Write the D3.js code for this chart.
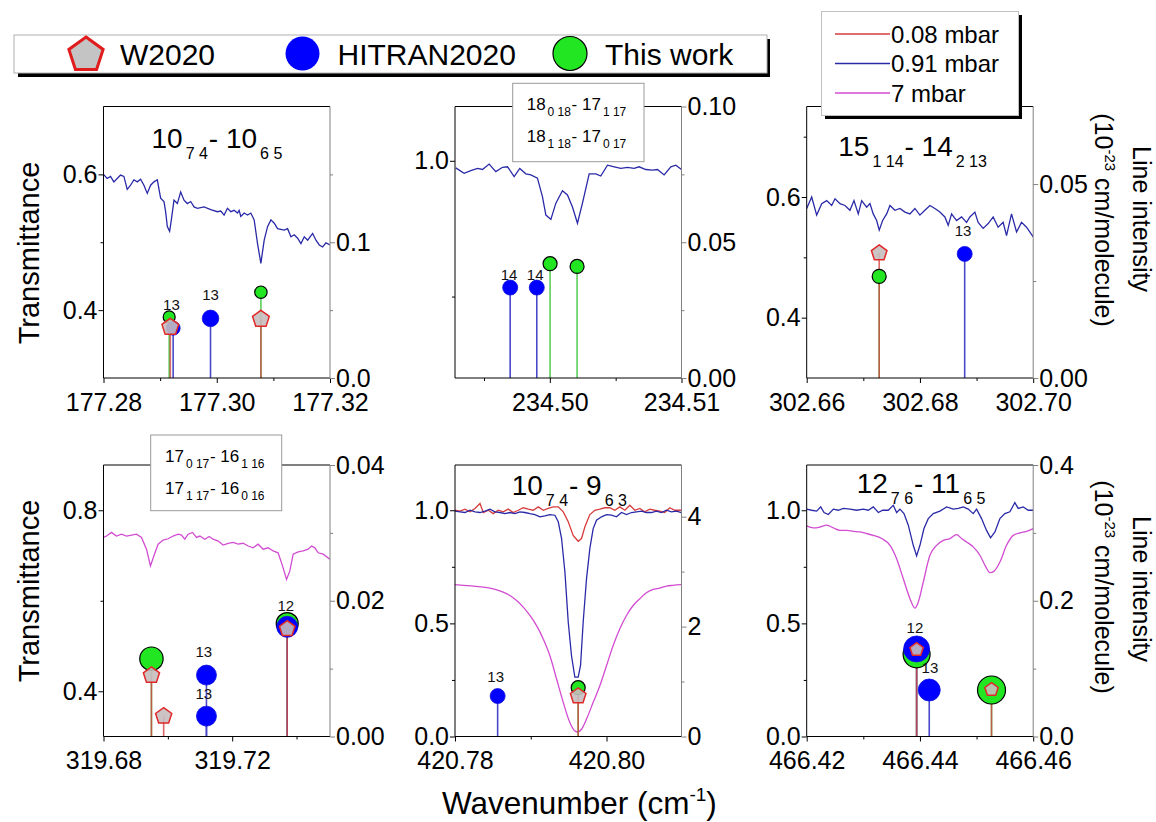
<!DOCTYPE html>
<html><head><meta charset="utf-8">
<script src="https://cdn.jsdelivr.net/npm/d3@7"></script>
<style>body{margin:0;background:#fff}svg{display:block}text{font-family:"Liberation Sans",Arial,sans-serif}</style>
</head><body>
<svg id="chart" width="1156" height="822"></svg>
<script>
// ---------------- DATA ----------------
const legendSeries = ["W2020", "HITRAN2020", "This work"];
const pressureSeries = ["0.08 mbar", "0.91 mbar", "7 mbar"];
const xAxisTitle = "Wavenumber (cm";
const leftAxisTitle = "Transmittance";
const rightAxisTitle1 = "Line intensity";

// Panel 1 : 10(7 4) - 10(6 5)
const p1Wn = [177.28000,177.28065,177.28124,177.28183,177.28242,177.28301,177.28360,177.28419,177.28478,177.28537,177.28596,177.28655,177.28714,177.28773,177.28832,177.28891,177.28950,177.29009,177.29068,177.29097,177.29127,177.29168,177.29198,177.29245,177.29304,177.29363,177.29422,177.29481,177.29540,177.29599,177.29658,177.29776,177.29894,177.30012,177.30071,177.30130,177.30189,177.30248,177.30307,177.30366,177.30395,177.30425,177.30484,177.30543,177.30602,177.30661,177.30720,177.30779,177.30838,177.30897,177.30956,177.31015,177.31074,177.31192,177.31251,177.31310,177.31369,177.31428,177.31487,177.31546,177.31605,177.31693,177.31752,177.31811,177.31870,177.31929,177.32000];
const p1T091 = [0.600,0.594,0.597,0.589,0.594,0.599,0.597,0.578,0.584,0.592,0.589,0.593,0.584,0.572,0.584,0.589,0.592,0.565,0.560,0.545,0.523,0.516,0.533,0.562,0.557,0.574,0.562,0.557,0.560,0.552,0.550,0.552,0.548,0.545,0.546,0.540,0.550,0.545,0.547,0.543,0.547,0.538,0.543,0.540,0.543,0.533,0.498,0.469,0.503,0.523,0.533,0.528,0.520,0.518,0.520,0.508,0.511,0.506,0.498,0.508,0.503,0.513,0.503,0.496,0.493,0.499,0.496];
const p1W2020Wn = [177.2918, 177.3078];
const p1W2020S = [0.0375, 0.0434];
const p1HitranWn = [177.2923, 177.2989];
const p1HitranS = [0.0367, 0.0439];
const p1ThisWn = [177.2916, 177.3078];
const p1ThisS = [0.0450, 0.0632];
const p1LabelText = ["13", "13"];
const p1LabelWn = [177.2920, 177.2989];
const p1LabelS = [0.0504, 0.0573];

// Panel 2 : 18(0 18)-17(1 17) / 18(1 18)-17(0 17)
const p2Wn = [234.49286,234.49349,234.49400,234.49451,234.49489,234.49539,234.49590,234.49641,234.49679,234.49729,234.49772,234.49818,234.49856,234.49906,234.49944,234.49970,234.50008,234.50046,234.50096,234.50134,234.50172,234.50210,234.50248,234.50299,234.50349,234.50387,234.50438,234.50489,234.50539,234.50590,234.50640,234.50678,234.50729,234.50780,234.50818,234.50868,234.50919,234.50957,234.51000];
const p2T091 = [0.987,0.977,0.982,0.986,0.984,0.994,0.980,0.988,0.989,0.971,0.986,0.976,0.974,0.968,0.934,0.900,0.892,0.922,0.945,0.937,0.915,0.885,0.922,0.976,0.976,0.972,0.992,0.989,0.986,0.988,0.986,0.989,0.984,0.983,0.984,0.974,0.989,0.992,0.984];
const p2W2020Wn = [];
const p2W2020S = [];
const p2HitranWn = [234.49699, 234.49901];
const p2HitranS = [0.0333, 0.0333];
const p2ThisWn = [234.50002, 234.50207];
const p2ThisS = [0.0421, 0.0411];
const p2LabelText = ["14", "14"];
const p2LabelWn = [234.49691, 234.49889];
const p2LabelS = [0.0360, 0.0360];

// Panel 3 : 15(1 14) - 14(2 13)
const p3Wn = [302.66000,302.66088,302.66176,302.66265,302.66353,302.66441,302.66500,302.66588,302.66676,302.66764,302.66835,302.66911,302.66971,302.67059,302.67117,302.67175,302.67235,302.67281,302.67341,302.67412,302.67470,302.67558,302.67646,302.67735,302.67823,302.67911,302.67999,302.68087,302.68176,302.68264,302.68352,302.68440,302.68499,302.68559,302.68647,302.68735,302.68823,302.68882,302.68970,302.69028,302.69116,302.69205,302.69293,302.69381,302.69469,302.69529,302.69617,302.69706,302.69794,302.69882,302.70000];
const p3T091 = [0.581,0.600,0.570,0.589,0.594,0.586,0.597,0.589,0.586,0.578,0.594,0.572,0.594,0.583,0.589,0.572,0.561,0.545,0.561,0.572,0.586,0.578,0.581,0.575,0.572,0.581,0.570,0.578,0.586,0.581,0.575,0.567,0.553,0.572,0.561,0.567,0.558,0.567,0.575,0.558,0.548,0.556,0.567,0.550,0.558,0.536,0.572,0.542,0.558,0.550,0.534];
const p3W2020Wn = [302.6728];
const p3W2020S = [0.0322];
const p3HitranWn = [302.6879];
const p3HitranS = [0.0320];
const p3ThisWn = [302.6728];
const p3ThisS = [0.0262];
const p3LabelText = ["13"];
const p3LabelWn = [302.6876];
const p3LabelS = [0.0367];

// Panel 4 : 17(0 17)-16(1 16) / 17(1 17)-16(0 16)
const p4Wn = [319.68000,319.68093,319.68248,319.68403,319.68559,319.68714,319.68870,319.69025,319.69181,319.69336,319.69460,319.69564,319.69698,319.69853,319.70008,319.70164,319.70319,319.70425,319.70527,319.70630,319.70767,319.70891,319.70994,319.71149,319.71283,319.71407,319.71562,319.71718,319.71873,319.72029,319.72184,319.72339,319.72495,319.72650,319.72806,319.72961,319.73117,319.73272,319.73427,319.73564,319.73689,319.73791,319.73895,319.74050,319.74205,319.74361,319.74466,319.74569,319.74672,319.74828,319.75035];
const p4T7 = [0.740,0.743,0.751,0.743,0.747,0.743,0.745,0.747,0.740,0.714,0.677,0.699,0.725,0.734,0.737,0.743,0.747,0.745,0.736,0.747,0.751,0.740,0.743,0.736,0.742,0.736,0.732,0.723,0.727,0.729,0.725,0.727,0.721,0.717,0.725,0.714,0.717,0.710,0.706,0.677,0.647,0.666,0.703,0.708,0.710,0.714,0.721,0.717,0.706,0.703,0.692];
const p4W2020Wn = [319.6949, 319.6987, 319.7371];
const p4W2020S = [0.0090, 0.0030, 0.01586];
const p4HitranWn = [319.7120, 319.7120, 319.7371];
const p4HitranS = [0.00905, 0.0030, 0.01616];
const p4ThisWn = [319.6949, 319.7371];
const p4ThisS = [0.01146, 0.01664];
const p4LabelText = ["12", "13", "13"];
const p4LabelWn = [319.73667, 319.71118, 319.71118];
const p4LabelS = [0.01845, 0.01175, 0.00558];

// Panel 5 : 10(7 4) - 9(6 3)
const p5WnA = [420.78000,420.78066,420.78132,420.78198,420.78264,420.78330,420.78374,420.78440,420.78505,420.78571,420.78637,420.78703,420.78769,420.78835,420.78901,420.78967,420.79033,420.79099,420.79165,420.79231,420.79297,420.79363,420.79429,420.79495,420.79560,420.79626,420.79670,420.79714,420.79780,420.79846,420.79912,420.79978,420.80044,420.80110,420.80176,420.80242,420.80308,420.80374,420.80440,420.80505,420.80571,420.80637,420.80703,420.80769,420.80835,420.80901,420.80989];
const p5T008 = [1.000,0.996,1.005,0.993,1.008,1.030,0.990,1.000,0.985,1.000,0.993,1.005,0.990,1.000,1.011,1.005,1.000,1.015,1.000,1.008,1.015,1.015,0.993,0.949,0.889,0.863,0.875,0.926,0.981,1.000,1.005,1.011,1.011,1.000,1.015,1.000,1.022,1.000,1.008,0.993,1.005,1.000,0.996,0.990,1.011,1.000,1.000];
const p5WnB = [420.78000,420.78066,420.78132,420.78198,420.78264,420.78330,420.78396,420.78462,420.78527,420.78593,420.78659,420.78725,420.78791,420.78857,420.78923,420.78989,420.79055,420.79121,420.79187,420.79253,420.79319,420.79363,420.79407,420.79451,420.79495,420.79538,420.79582,420.79626,420.79657,420.79692,420.79736,420.79780,420.79824,420.79868,420.79934,420.80000,420.80066,420.80132,420.80198,420.80264,420.80330,420.80396,420.80462,420.80527,420.80593,420.80659,420.80725,420.80791,420.80857,420.80923,420.80989];
const p5T091 = [0.996,0.993,0.990,1.000,0.993,0.990,0.996,1.005,0.993,0.990,0.985,0.990,0.985,0.993,0.990,0.985,0.981,0.971,0.975,0.981,0.978,0.949,0.875,0.727,0.505,0.357,0.262,0.262,0.313,0.505,0.697,0.830,0.919,0.956,0.971,0.981,0.978,0.971,0.990,0.981,0.990,0.993,0.996,0.990,0.990,0.996,0.990,1.000,0.993,0.996,0.990];
const p5WnC = [420.78000,420.78110,420.78242,420.78374,420.78505,420.78637,420.78725,420.78813,420.78901,420.78989,420.79077,420.79165,420.79253,420.79341,420.79429,420.79516,420.79582,420.79626,420.79670,420.79736,420.79824,420.79912,420.80000,420.80088,420.80176,420.80264,420.80352,420.80440,420.80527,420.80615,420.80703,420.80791,420.80879,420.80989];
const p5T7 = [0.671,0.668,0.665,0.660,0.653,0.638,0.623,0.601,0.572,0.535,0.490,0.431,0.357,0.254,0.151,0.062,0.025,0.020,0.032,0.077,0.151,0.224,0.313,0.402,0.476,0.535,0.579,0.609,0.635,0.650,0.656,0.665,0.668,0.671];
const p5W2020Wn = [420.79626];
const p5W2020S = [0.736];
const p5HitranWn = [420.78563];
const p5HitranS = [0.736];
const p5ThisWn = [420.79626];
const p5ThisS = [0.888];
const p5LabelText = ["13"];
const p5LabelWn = [420.78537];
const p5LabelS = [0.99];

// Panel 6 : 12(7 6) - 11(6 5)
const p6WnB = [466.42000,466.42088,466.42176,466.42247,466.42306,466.42382,466.42471,466.42559,466.42647,466.42765,466.42882,466.43000,466.43088,466.43176,466.43265,466.43341,466.43441,466.43529,466.43588,466.43647,466.43718,466.43794,466.43882,466.43941,466.44000,466.44071,466.44147,466.44235,466.44353,466.44471,466.44588,466.44676,466.44765,466.44853,466.44941,466.45000,466.45088,466.45176,466.45247,466.45324,466.45412,466.45500,466.45588,466.45676,466.45735,466.45824,466.45912,466.46000];
const p6T091 = [1.005,1.000,0.996,1.015,0.990,0.981,1.005,1.000,1.008,1.005,1.000,1.005,1.000,1.015,0.990,1.000,1.000,1.022,0.990,1.005,0.985,0.934,0.845,0.798,0.845,0.919,0.963,0.985,0.996,1.015,1.005,1.008,1.015,1.005,0.985,1.005,0.963,0.911,0.878,0.904,0.963,0.985,0.993,1.034,1.008,1.015,1.000,1.000];
const p6WnC = [466.42000,466.42118,466.42235,466.42353,466.42471,466.42588,466.42706,466.42824,466.42941,466.43059,466.43176,466.43324,466.43471,466.43588,466.43706,466.43824,466.43912,466.43971,466.44059,466.44176,466.44294,466.44412,466.44529,466.44647,466.44735,466.44824,466.44941,466.45059,466.45165,466.45235,466.45306,466.45412,466.45529,466.45647,466.45765,466.45882,466.46000];
const p6T7 = [0.931,0.922,0.926,0.934,0.922,0.911,0.911,0.907,0.904,0.897,0.889,0.875,0.845,0.786,0.697,0.609,0.567,0.594,0.683,0.801,0.845,0.867,0.875,0.892,0.875,0.860,0.838,0.801,0.749,0.724,0.730,0.771,0.845,0.889,0.900,0.907,0.919];
const p6W2020Wn = [466.43941, 466.45264];
const p6W2020S = [0.128, 0.069];
const p6HitranWn = [466.43941, 466.44164];
const p6HitranS = [0.129, 0.0685];
const p6ThisWn = [466.43941, 466.45264];
const p6ThisS = [0.121, 0.0685];
const p6LabelText = ["12", "13"];
const p6LabelWn = [466.43911, 466.44176];
const p6LabelS = [0.1528, 0.094];

// Axis domains and ticks
const p1XTicks = [177.28, 177.30, 177.32], p1XMinor = [177.29, 177.31];
const p2XTicks = [234.50, 234.51], p2XMinor = [234.495, 234.505];
const p3XTicks = [302.66, 302.68, 302.70], p3XMinor = [302.67, 302.69];
const p4XTicks = [319.68, 319.72], p4XMinor = [319.70, 319.74];
const p5XTicks = [420.78, 420.80], p5XMinor = [420.79];
const p6XTicks = [466.42, 466.44, 466.46], p6XMinor = [466.43, 466.45];
const p1LTicks = [0.4, 0.6], p1LMinor = [0.5];
const p2LTicks = [1.0], p2LMinor = [0.75];
const p3LTicks = [0.4, 0.6], p3LMinor = [0.5, 0.7];
const p4LTicks = [0.4, 0.8], p4LMinor = [0.6];
const p5LTicks = [0.0, 0.5, 1.0], p5LMinor = [0.25, 0.75];
const p6LTicks = [0.0, 0.5, 1.0], p6LMinor = [0.25, 0.75];
const p1RTicks = [0.0, 0.1], p1RMinor = [0.05, 0.15];
const p2RTicks = [0.00, 0.05, 0.10], p2RMinor = [0.025, 0.075];
const p3RTicks = [0.00, 0.05], p3RMinor = [0.025];
const p4RTicks = [0.00, 0.02, 0.04], p4RMinor = [0.01, 0.03];
const p5RTicks = [0, 2, 4], p5RMinor = [1, 3];
const p6RTicks = [0.0, 0.2, 0.4], p6RMinor = [0.1, 0.3];

// ---------------- STYLE / LAYOUT ----------------
const FONT = '"Liberation Sans", Arial, sans-serif';
const C = {
  red: "#d63c3c", blue: "#2a2aa8", mag: "#d24cd2",
  stemThis: "#5ccf5c", stemHit: "#4a4ac8", stemW: "#d24040",
  greenFill: "#22e622", blueFill: "#0000ff", pentFill: "#c6bebe", pentStroke: "#e02828"
};
const W = 226.5, H = 271.5;
const colX = [103.5, 455, 806.7], rowY = [106.5, 465];

const panels = [
  { col:0, row:0, xd:[177.28,177.32], yLd:[0.3,0.7], yRd:[0,0.2],
    xt:p1XTicks, xm:p1XMinor, lt:p1LTicks, lm:p1LMinor, rt:p1RTicks, rm:p1RMinor, lf:".1f", rf:".1f",
    spectra:[{wn:p1Wn, t:p1T091, c:C.blue}],
    w:[p1W2020Wn,p1W2020S], h:[p1HitranWn,p1HitranS], th:[p1ThisWn,p1ThisS],
    lab:[p1LabelText,p1LabelWn,p1LabelS],
    rThis:[6,6.2], rHit:[7,8.3], rW:[8.8,8.8],
    title:{dx:48, dy:41.8, parts:["10","7 4","- 10","6 5"]} },
  { col:1, row:0, xd:[234.4928,234.51], yLd:[0.6,1.1], yRd:[0,0.10],
    xt:p2XTicks, xm:p2XMinor, lt:p2LTicks, lm:p2LMinor, rt:p2RTicks, rm:p2RMinor, lf:".1f", rf:".2f",
    spectra:[{wn:p2Wn, t:p2T091, c:C.blue}],
    w:[p2W2020Wn,p2W2020S], h:[p2HitranWn,p2HitranS], th:[p2ThisWn,p2ThisS],
    lab:[p2LabelText,p2LabelWn,p2LabelS],
    rThis:[7,7], rHit:[7.5,7.5], rW:[],
    box:{dx:57.7, dy:-23.2, w:131.3, h:78.4, tx:71.7, lines:[{dy:3.5, parts:["18","0 18","- 17","1 17"]},{dy:35.2, parts:["18","1 18","- 17","0 17"]}]} },
  { col:2, row:0, xd:[302.66,302.70], yLd:[0.3,0.75], yRd:[0,0.07],
    xt:p3XTicks, xm:p3XMinor, lt:p3LTicks, lm:p3LMinor, rt:p3RTicks, rm:p3RMinor, lf:".1f", rf:".2f",
    spectra:[{wn:p3Wn, t:p3T091, c:C.blue}],
    w:[p3W2020Wn,p3W2020S], h:[p3HitranWn,p3HitranS], th:[p3ThisWn,p3ThisS],
    lab:[p3LabelText,p3LabelWn,p3LabelS],
    rThis:[7], rHit:[7.5], rW:[8.2],
    title:{dx:31.6, dy:49.3, parts:["15","1 14","- 14","2 13"]} },
  { col:0, row:1, xd:[319.68,319.7504], yLd:[0.3,0.9], yRd:[0,0.04],
    xt:p4XTicks, xm:p4XMinor, lt:p4LTicks, lm:p4LMinor, rt:p4RTicks, rm:p4RMinor, lf:".1f", rf:".2f",
    spectra:[{wn:p4Wn, t:p4T7, c:C.mag}],
    w:[p4W2020Wn,p4W2020S], h:[p4HitranWn,p4HitranS], th:[p4ThisWn,p4ThisS],
    lab:[p4LabelText,p4LabelWn,p4LabelS],
    rThis:[11.7,11], rHit:[10,10,10.5], rW:[8.5,8.5,8.2],
    box:{dx:47.2, dy:-30, w:131, h:75.7, tx:61.5, lines:[{dy:-3.3, parts:["17","0 17","- 16","1 16"]},{dy:29, parts:["17","1 17","- 16","0 16"]}]} },
  { col:1, row:1, xd:[420.78,420.8099], yLd:[0,1.2], yRd:[0,4.94],
    xt:p5XTicks, xm:p5XMinor, lt:p5LTicks, lm:p5LMinor, rt:p5RTicks, rm:p5RMinor, lf:".1f", rf:"d",
    spectra:[{wn:p5WnC, t:p5T7, c:C.mag, smooth:true},{wn:p5WnA, t:p5T008, c:C.red},{wn:p5WnB, t:p5T091, c:C.blue}],
    w:[p5W2020Wn,p5W2020S], h:[p5HitranWn,p5HitranS], th:[p5ThisWn,p5ThisS],
    lab:[p5LabelText,p5LabelWn,p5LabelS],
    rThis:[7], rHit:[7.5], rW:[8.2],
    title:{dx:56.7, dy:30, parts:["10","7 4","- 9","6 3"]} },
  { col:2, row:1, xd:[466.42,466.46], yLd:[0,1.2], yRd:[0,0.4],
    xt:p6XTicks, xm:p6XMinor, lt:p6LTicks, lm:p6LMinor, rt:p6RTicks, rm:p6RMinor, lf:".1f", rf:".1f",
    spectra:[{wn:p6WnC, t:p6T7, c:C.mag, smooth:true},{wn:p6WnB, t:p6T091, c:C.blue}],
    w:[p6W2020Wn,p6W2020S], h:[p6HitranWn,p6HitranS], th:[p6ThisWn,p6ThisS],
    lab:[p6LabelText,p6LabelWn,p6LabelS],
    rThis:[13.5,14], rHit:[13,11], rW:[7,7],
    title:{dx:50, dy:27.7, parts:["12","7 6","- 11","6 5"]} }
];

const svg = d3.select("#chart");
svg.append("rect").attr("width",1156).attr("height",822).attr("fill","#fff");

function pentagon(cx, cy, r) {
  const pts = d3.range(5).map(k => {
    const a = -Math.PI/2 + k*2*Math.PI/5;
    return [cx + r*Math.cos(a), cy + r*Math.sin(a)];
  });
  return "M" + pts.map(p => p.join(",")).join("L") + "Z";
}

function subText(g, x, y, parts, mainSize, subSize, shift, gap) {
  const t = g.append("text").attr("x", x).attr("y", y).attr("font-size", mainSize)
    .attr("fill", "#000").style("white-space", "pre");
  parts.forEach((p, i) => {
    const isSub = i % 2 === 1;
    const ts = t.append("tspan").text(p);
    if (isSub) ts.attr("font-size", subSize).attr("dy", shift).attr("dx", gap);
    else if (i > 0) ts.attr("dy", -shift).attr("dx", gap * 0.3);
  });
  return t;
}

function styleAxis(sel, color) {
  sel.select(".domain").remove();
  sel.selectAll("line").attr("stroke", color).attr("stroke-width", 1);
  sel.selectAll("text").attr("font-size", 25).attr("fill", "#000").attr("font-family", FONT);
}

panels.forEach((p, idx) => {
  const x0 = colX[p.col], yT = rowY[p.row], yB = yT + H, x1 = x0 + W;
  const x = d3.scaleLinear().domain(p.xd).range([x0, x1]);
  const yL = d3.scaleLinear().domain(p.yLd).range([yB, yT]);
  const yR = d3.scaleLinear().domain(p.yRd).range([yB, yT]);
  const g = svg.append("g");

  const clipId = "clip" + idx;
  g.append("clipPath").attr("id", clipId).append("rect")
    .attr("x", x0).attr("y", yT).attr("width", W).attr("height", H);

  // spectra
  p.spectra.forEach(s => {
    const line = d3.line().x(d => x(d[0])).y(d => yL(d[1]))
      .curve(s.smooth ? d3.curveMonotoneX : d3.curveLinear);
    g.append("path").attr("clip-path", `url(#${clipId})`)
      .attr("d", line(d3.zip(s.wn, s.t)))
      .attr("fill", "none").attr("stroke", s.c).attr("stroke-width", 1.3);
  });

  // stems
  const stems = [[p.th, C.stemThis, 1], [p.h, C.stemHit, 1], [p.w, C.stemW, 0.8]];
  stems.forEach(([arr, col, op]) => {
    g.selectAll(null).data(d3.zip(arr[0], arr[1])).enter().append("line")
      .attr("x1", d => x(d[0])).attr("x2", d => x(d[0]))
      .attr("y1", yR(0)).attr("y2", d => yR(d[1]))
      .attr("stroke", col).attr("stroke-width", 1.6).attr("stroke-opacity", op);
  });

  // markers
  g.selectAll(null).data(d3.zip(p.th[0], p.th[1])).enter().append("circle")
    .attr("cx", d => x(d[0])).attr("cy", d => yR(d[1])).attr("r", (d, i) => p.rThis[i])
    .attr("fill", C.greenFill).attr("stroke", "#000").attr("stroke-width", 1.2);
  g.selectAll(null).data(d3.zip(p.h[0], p.h[1])).enter().append("circle")
    .attr("cx", d => x(d[0])).attr("cy", d => yR(d[1])).attr("r", (d, i) => p.rHit[i])
    .attr("fill", C.blueFill).attr("stroke", "#1010e0").attr("stroke-width", 0.8);
  g.selectAll(null).data(d3.zip(p.w[0], p.w[1])).enter().append("path")
    .attr("d", (d, i) => pentagon(x(d[0]), yR(d[1]), p.rW[i]))
    .attr("fill", C.pentFill).attr("fill-opacity", 0.9)
    .attr("stroke", C.pentStroke).attr("stroke-width", 1.5);

  // labels
  g.selectAll(null).data(d3.zip(p.lab[0], p.lab[1], p.lab[2])).enter().append("text")
    .attr("x", d => x(d[1])).attr("y", d => yR(d[2]))
    .attr("text-anchor", "middle").attr("font-size", 15).attr("fill", "#111")
    .text(d => d[0]);

  // axes
  const fmtX = d3.format(".2f");
  const gb = g.append("g").attr("transform", `translate(0,${yB})`)
    .call(d3.axisBottom(x).tickValues(p.xt).tickFormat(fmtX).tickSize(5).tickPadding(10));
  styleAxis(gb, "#000");
  const gbm = g.append("g").attr("transform", `translate(0,${yB})`)
    .call(d3.axisBottom(x).tickValues(p.xm).tickFormat("").tickSize(3));
  styleAxis(gbm, "#000");
  const gl = g.append("g").attr("transform", `translate(${x0},0)`)
    .call(d3.axisLeft(yL).tickValues(p.lt).tickFormat(d3.format(p.lf)).tickSize(5).tickPadding(1));
  styleAxis(gl, "#000");
  const glm = g.append("g").attr("transform", `translate(${x0},0)`)
    .call(d3.axisLeft(yL).tickValues(p.lm).tickFormat("").tickSize(3));
  styleAxis(glm, "#000");
  const gr = g.append("g").attr("transform", `translate(${x1},0)`)
    .call(d3.axisRight(yR).tickValues(p.rt).tickFormat(d3.format(p.rf)).tickSize(5).tickPadding(1));
  styleAxis(gr, "#808080");
  const grm = g.append("g").attr("transform", `translate(${x1},0)`)
    .call(d3.axisRight(yR).tickValues(p.rm).tickFormat("").tickSize(3));
  styleAxis(grm, "#808080");

  // frame
  g.append("line").attr("x1", x0).attr("x2", x1).attr("y1", yT).attr("y2", yT).attr("stroke", "#000");
  g.append("line").attr("x1", x0).attr("x2", x1).attr("y1", yB).attr("y2", yB).attr("stroke", "#000");
  g.append("line").attr("x1", x0).attr("x2", x0).attr("y1", yT).attr("y2", yB).attr("stroke", "#000");
  g.append("line").attr("x1", x1).attr("x2", x1).attr("y1", yT).attr("y2", yB).attr("stroke", "#808080");

  if (p.title) {
    subText(g, x0 + p.title.dx, yT + p.title.dy, p.title.parts, 28, 16, 11, 3);
  }
  if (p.box) {
    const b = p.box;
    g.append("rect").attr("x", x0 + b.dx).attr("y", yT + b.dy).attr("width", b.w).attr("height", b.h)
      .attr("fill", "#fff").attr("stroke", "#9a9a9a").attr("stroke-width", 1);
    b.lines.forEach(l => subText(g, x0 + b.tx, yT + l.dy, l.parts, 17, 12, 6, 2));
  }
});

// axis titles
[253, 591].forEach(cy => {
  svg.append("text").attr("transform", `translate(39,${cy}) rotate(-90)`)
    .attr("text-anchor", "middle").attr("font-size", 29).attr("fill", "#000").text(leftAxisTitle);
});
[[219, 220], [589, 587]].forEach(([c1, c2]) => {
  svg.append("text").attr("transform", `translate(1133,${c1}) rotate(90)`)
    .attr("text-anchor", "middle").attr("font-size", 25).attr("fill", "#000").text(rightAxisTitle1);
  const t = svg.append("text").attr("transform", `translate(1095,${c2}) rotate(90)`)
    .attr("text-anchor", "middle").attr("font-size", 25).attr("fill", "#000").style("white-space", "pre");
  t.append("tspan").text("(10");
  t.append("tspan").attr("font-size", 15).attr("dy", -10).text("-23");
  t.append("tspan").attr("dy", 10).text(" cm/molecule)");
});
{
  const t = svg.append("text").attr("x", 442).attr("y", 814).attr("font-size", 31.5).attr("fill", "#000");
  t.append("tspan").text(xAxisTitle);
  t.append("tspan").attr("font-size", 19).attr("dy", -13).text("-1");
  t.append("tspan").attr("dy", 13).text(")");
}

// marker legend
{
  const g = svg.append("g");
  g.append("rect").attr("x", 18).attr("y", 39).attr("width", 752).attr("height", 38).attr("fill", "#000");
  g.append("rect").attr("x", 14).attr("y", 35).attr("width", 753).attr("height", 38)
    .attr("fill", "#fff").attr("stroke", "#b0b0b0").attr("stroke-width", 1);
  g.append("path").attr("d", pentagon(86, 55, 18)).attr("fill", "#c4c4c4")
    .attr("stroke", "#e01c1c").attr("stroke-width", 3);
  g.append("circle").attr("cx", 302.5).attr("cy", 53.5).attr("r", 17).attr("fill", "#0000ff");
  g.append("circle").attr("cx", 570).attr("cy", 53.5).attr("r", 17).attr("fill", "#22e622")
    .attr("stroke", "#000").attr("stroke-width", 1.2);
  const tx = [120, 337.5, 605];
  legendSeries.forEach((s, i) => {
    g.append("text").attr("x", tx[i]).attr("y", 64.5).attr("font-size", 30).attr("fill", "#000").text(s);
  });
}
// pressure legend
{
  const g = svg.append("g");
  g.append("rect").attr("x", 825).attr("y", 15).attr("width", 197).attr("height", 104).attr("fill", "#000");
  g.append("rect").attr("x", 821.5).attr("y", 11.5).attr("width", 197).attr("height", 104)
    .attr("fill", "#fff").attr("stroke", "#c0c0c0").attr("stroke-width", 1);
  const cols = [C.red, C.blue, C.mag];
  const ys = [34, 63.5, 93];
  pressureSeries.forEach((s, i) => {
    g.append("line").attr("x1", 835).attr("x2", 890).attr("y1", ys[i]).attr("y2", ys[i])
      .attr("stroke", cols[i]).attr("stroke-width", 1.3);
    g.append("text").attr("x", 891).attr("y", ys[i] + 8.5).attr("font-size", 24).attr("fill", "#000").text(s);
  });
}
</script>
</body></html>
